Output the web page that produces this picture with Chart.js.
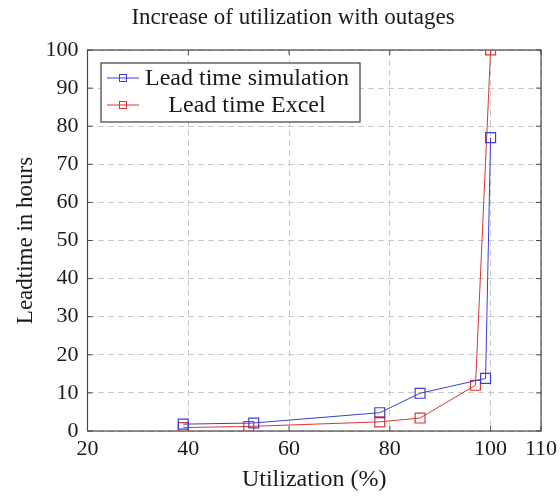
<!DOCTYPE html>
<html>
<head>
<meta charset="utf-8">
<script src="https://cdn.jsdelivr.net/npm/chart.js@4/dist/chart.umd.min.js"></script>
<style>
  html, body { margin: 0; padding: 0; background: #fff; }
  #wrap { width: 560px; height: 496px; }
</style>
</head>
<body>
<div id="wrap"><canvas id="chart"></canvas></div>
<script>
// data
const simX = [39, 53, 78, 86, 99, 100];
const simY = [1.8, 2.1, 4.8, 9.9, 13.8, 77];
const excelX = [39, 52, 78, 86, 97, 100];
const excelY = [0.9, 1.2, 2.4, 3.4, 12, 100];
const xTicks = [20, 40, 60, 80, 100, 110];
const yTicks = [0, 10, 20, 30, 40, 50, 60, 70, 80, 90, 100];

const FONT = '"Liberation Serif", "Times New Roman", serif';
const BLUE = 'rgb(60, 60, 215)';
const RED = 'rgb(215, 55, 55)';

const toPoints = (xs, ys) => xs.map((x, i) => ({ x: x, y: ys[i] }));

// frame + small inner ticks, like pgfplots
const framePlugin = {
  id: 'frame',
  beforeDatasetsDraw(chart) {
    const { ctx, chartArea: a, scales } = chart;
    ctx.save();
    ctx.strokeStyle = 'rgb(70,70,70)';
    ctx.lineWidth = 1.2;
    ctx.strokeRect(a.left, a.top, a.right - a.left, a.bottom - a.top);
    ctx.lineWidth = 1;
    ctx.beginPath();
    xTicks.forEach(v => {
      const px = scales.x.getPixelForValue(v);
      ctx.moveTo(px, a.bottom); ctx.lineTo(px, a.bottom - 5);
      ctx.moveTo(px, a.top); ctx.lineTo(px, a.top + 5);
    });
    yTicks.forEach(v => {
      const py = scales.y.getPixelForValue(v);
      ctx.moveTo(a.left, py); ctx.lineTo(a.left + 5, py);
      ctx.moveTo(a.right, py); ctx.lineTo(a.right - 5, py);
    });
    ctx.stroke();
    ctx.restore();
  }
};

// title and boxed legend drawn by hand
const decoPlugin = {
  id: 'deco',
  afterDraw(chart) {
    const { ctx, chartArea: a } = chart;
    ctx.save();
    ctx.fillStyle = '#1a1a1a';
    ctx.font = '23px ' + FONT;
    ctx.textAlign = 'center';
    ctx.textBaseline = 'middle';
    ctx.fillText('Increase of utilization with outages', 293, 18);

    const bx = a.left + 13.5, by = a.top + 13, bw = 259, bh = 59;
    ctx.fillStyle = '#fff';
    ctx.fillRect(bx, by, bw, bh);
    ctx.strokeStyle = 'rgb(60,60,60)';
    ctx.lineWidth = 1.2;
    ctx.strokeRect(bx, by, bw, bh);

    chart.data.datasets.forEach((ds, i) => {
      const y = by + 15 + i * 27;
      ctx.strokeStyle = ds.borderColor;
      ctx.lineWidth = 1;
      ctx.beginPath();
      ctx.moveTo(bx + 6, y); ctx.lineTo(bx + 38, y);
      ctx.stroke();
      ctx.strokeRect(bx + 18.5, y - 3.5, 7, 7);
      ctx.fillStyle = '#1a1a1a';
      ctx.font = '24px ' + FONT;
      ctx.fillText(ds.label, bx + 146, y + 1);
    });
    ctx.restore();
  }
};

new Chart(document.getElementById('chart'), {
  type: 'line',
  data: {
    datasets: [
      {
        label: 'Lead time simulation',
        data: toPoints(simX, simY),
        borderColor: BLUE,
        backgroundColor: 'transparent',
        borderWidth: 1,
        pointStyle: 'rect',
        pointRadius: 7,
        pointBorderWidth: 1.2,
        tension: 0
      },
      {
        label: 'Lead time Excel',
        data: toPoints(excelX, excelY),
        borderColor: RED,
        backgroundColor: 'transparent',
        borderWidth: 1,
        pointStyle: 'rect',
        pointRadius: 7,
        pointBorderWidth: 1.2,
        tension: 0
      }
    ]
  },
  options: {
    responsive: true,
    maintainAspectRatio: false,
    animation: false,
    layout: { padding: { top: 50, right: 0, left: 0, bottom: 0 } },
    plugins: {
      legend: { display: false },
      tooltip: { enabled: false }
    },
    scales: {
      x: {
        type: 'linear',
        min: 20,
        max: 110,
        afterBuildTicks: s => { s.ticks = xTicks.map(v => ({ value: v })); },
        afterFit: s => { s.height = 65; s.paddingRight = 19; },
        ticks: { color: '#1a1a1a', font: { family: FONT, size: 22 }, padding: 5, maxRotation: 0 },
        grid: { color: 'rgb(200,200,200)', lineWidth: 1, drawTicks: false },
        border: { display: false, dash: [6, 4] },
        title: { display: true, text: 'Utilization (%)', color: '#1a1a1a', font: { family: FONT, size: 24 }, padding: { top: 0, bottom: 2 } }
      },
      y: {
        min: 0,
        max: 100,
        afterBuildTicks: s => { s.ticks = yTicks.map(v => ({ value: v })); },
        afterFit: s => { s.width = 87.5; },
        ticks: { color: '#1a1a1a', font: { family: FONT, size: 22 }, padding: 9 },
        grid: { color: 'rgb(200,200,200)', lineWidth: 1, drawTicks: false },
        border: { display: false, dash: [6, 4] },
        title: { display: true, text: 'Leadtime in hours', color: '#1a1a1a', font: { family: FONT, size: 23 }, padding: { top: 12, bottom: 0 } }
      }
    }
  },
  plugins: [framePlugin, decoPlugin]
});
</script>
</body>
</html>
